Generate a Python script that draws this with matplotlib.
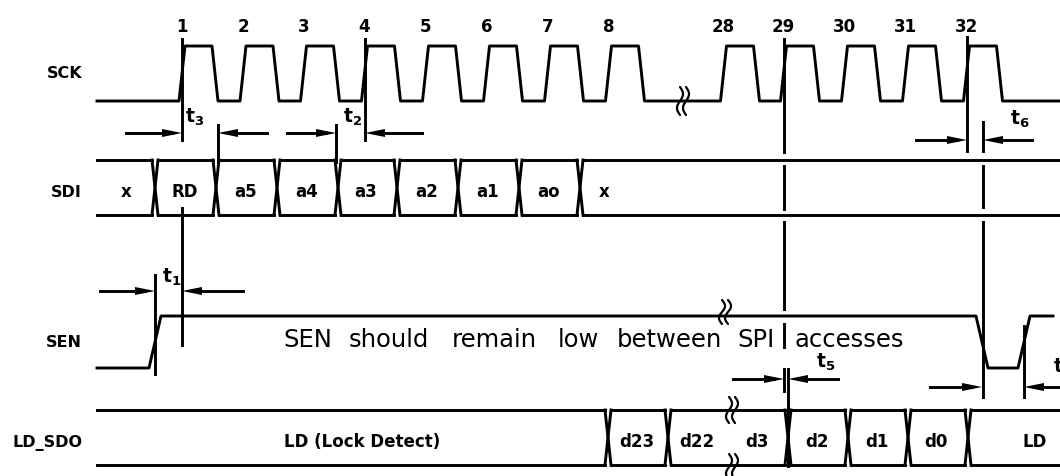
import numpy as np
import matplotlib.pyplot as plt
from matplotlib.patches import Polygon

# positions are in diagram pixel units: x = time axis, y grows downward

# --- SCK ---
clk_numbers = ['1', '2', '3', '4', '5', '6', '7', '8', '28', '29', '30', '31', '32']
clk_edges = [182, 243, 303.5, 364.5, 425.5, 486.5, 547.5, 608.5,
             723.5, 783.5, 844.5, 905.5, 966.5]
clk_break = 683

# --- SDI bus ---
sdi_bounds = [97, 155, 216, 277, 338, 397, 458, 519, 580, 1060]
sdi_labels = ['x', 'RD', 'a5', 'a4', 'a3', 'a2', 'a1', 'ao', 'x']
sdi_label_x = [126, 185, 246, 307, 366, 427, 488, 549, 604]

# --- SEN ---
sen_edges = [155, 982, 1024]  # rise, fall, rise
sen_break = 725
sen_words = ['SEN', 'should', 'remain', 'low', 'between', 'SPI', 'accesses']
sen_word_x = [283, 349, 452, 558, 617, 737, 794]

# --- LD_SDO bus ---
ld_bounds = [97, 608, 668, 732, 788, 848, 908, 968, 1060]
ld_breaks = [732]
ld_labels = ['LD (Lock Detect)', 'd23', 'd22', 'd3', 'd2', 'd1', 'd0', 'LD']
ld_label_x = [362, 637, 697, 757, 817, 877, 936, 1035]

# row levels
SCK_HI, SCK_LO = 47, 102
SDI_TOP, SDI_BOT = 161, 216
SEN_HI, SEN_LO = 317, 369
LD_TOP, LD_BOT = 411, 466

row_names = ['SCK', 'SDI', 'SEN', 'LD_SDO']
row_base = [78, 197, 347, 447]

# timing reference lines: x, list of (y0, y1) pieces
ref_lines = [
    (182, [(40, 141), (209, 346)]),
    (218, [(126, 163)]),
    (336, [(126, 163)]),
    (365, [(40, 141)]),
    (155, [(276, 375)]),
    (784, [(40, 153), (167, 210), (223, 310), (325, 348), (370, 392)]),
    (788, [(370, 467)]),
    (967, [(38, 152)]),
    (983, [(123, 152), (167, 208), (223, 398)]),
    (1024, [(327, 398)]),
]

# dimension arrows: tail x, tip x, y
arrows = [(126, 182, 134), (267, 218, 134), (287, 336, 134), (422, 365, 134),
          (100, 155, 292), (243, 182, 292), (916, 967, 141), (1032, 983, 141),
          (733, 784, 380), (838, 788, 380), (930, 982, 388), (1075, 1024, 388)]

# timing parameter names: text, x, baseline
t_labels = [(r'$\mathbf{t_3}$', 185, 123), (r'$\mathbf{t_2}$', 343, 123),
            (r'$\mathbf{t_1}$', 162, 283), (r'$\mathbf{t_6}$', 1010, 125),
            (r'$\mathbf{t_5}$', 816, 368), (r'$\mathbf{t_4}$', 1053, 373)]

LW = 2.1
K = 'black'

fig = plt.figure(figsize=(10.6, 4.77), dpi=100)
ax = fig.add_axes([0, 0, 1, 1])
ax.set_xlim(0, 1060)
ax.set_ylim(477, 0)
ax.axis('off')


def squiggle(xc, yc, h=26, amp=3.0, gap=6):
    t = np.linspace(0, 2, 60)
    y = yc - h / 2 + t * h / 2
    for off in (-gap / 2, gap / 2):
        ax.plot(xc + off + amp * np.sin(np.pi * t), y, color=K, lw=1.6,
                solid_capstyle='round')


def bus(bounds, top, bot, breaks=()):
    n = len(bounds)
    for i in range(n - 1):
        x0, x1 = bounds[i], bounds[i + 1]
        l = 3 if (0 < i and x0 not in breaks) else 0
        r = 3 if (i + 1 < n - 1 and x1 not in breaks) else 0
        ax.plot([x0 + l, x1 - r], [top, top], color=K, lw=LW)
        ax.plot([x0 + l, x1 - r], [bot, bot], color=K, lw=LW)
    for b in bounds[1:-1]:
        if b in breaks:
            continue
        ax.plot([b - 3, b + 3], [top, bot], color=K, lw=LW)
        ax.plot([b - 3, b + 3], [bot, top], color=K, lw=LW)


# SCK waveform
xs, ys = [97], [SCK_LO]
for r in clk_edges:
    xs += [r - 3, r + 3, r + 30, r + 36]
    ys += [SCK_LO, SCK_HI, SCK_HI, SCK_LO]
xs.append(1060)
ys.append(SCK_LO)
ax.plot(xs, ys, color=K, lw=LW)
squiggle(clk_break, SCK_LO, h=28)
for num, r in zip(clk_numbers, clk_edges):
    ax.text(r, 32, num, ha='center', va='baseline', fontsize=12, fontweight='bold')

# SDI bus
bus(sdi_bounds, SDI_TOP, SDI_BOT)
for lab, x in zip(sdi_labels, sdi_label_x):
    ax.text(x, 197, lab, ha='center', va='baseline', fontsize=12, fontweight='bold')

# SEN waveform
xs, ys = [97], [SEN_LO]
level = SEN_LO
for e in sen_edges:
    new = SEN_HI if level == SEN_LO else SEN_LO
    xs += [e - 6, e + 6]
    ys += [level, new]
    level = new
xs.append(1053)
ys.append(level)
ax.plot(xs, ys, color=K, lw=LW)
squiggle(sen_break, 313, h=24)
for w, x in zip(sen_words, sen_word_x):
    ax.text(x, 347, w, ha='left', va='baseline', fontsize=17.5)

# LD_SDO bus
bus(ld_bounds, LD_TOP, LD_BOT, ld_breaks)
squiggle(ld_breaks[0], LD_TOP, h=26)
squiggle(ld_breaks[0], LD_BOT + 2, h=26)
for lab, x in zip(ld_labels, ld_label_x):
    ax.text(x, 447, lab, ha='center', va='baseline', fontsize=12, fontweight='bold')

# row names
for name, yb in zip(row_names, row_base):
    ax.text(82, yb, name, ha='right', va='baseline', fontsize=11.5, fontweight='bold')

# reference lines
for x, pieces in ref_lines:
    for y0, y1 in pieces:
        ax.plot([x, x], [y0, y1], color=K, lw=LW)

# arrows
for tail, tip, y in arrows:
    d = 1 if tip > tail else -1
    ax.plot([tail, tip - d * 10], [y, y], color=K, lw=LW)
    ax.add_patch(Polygon([(tip, y), (tip - d * 20, y - 4), (tip - d * 20, y + 4)],
                         closed=True, color=K, lw=0))

for txt, x, yb in t_labels:
    ax.text(x, yb, txt, ha='left', va='baseline', fontsize=13.5)

fig.savefig('out.png', dpi=100, facecolor='white')
